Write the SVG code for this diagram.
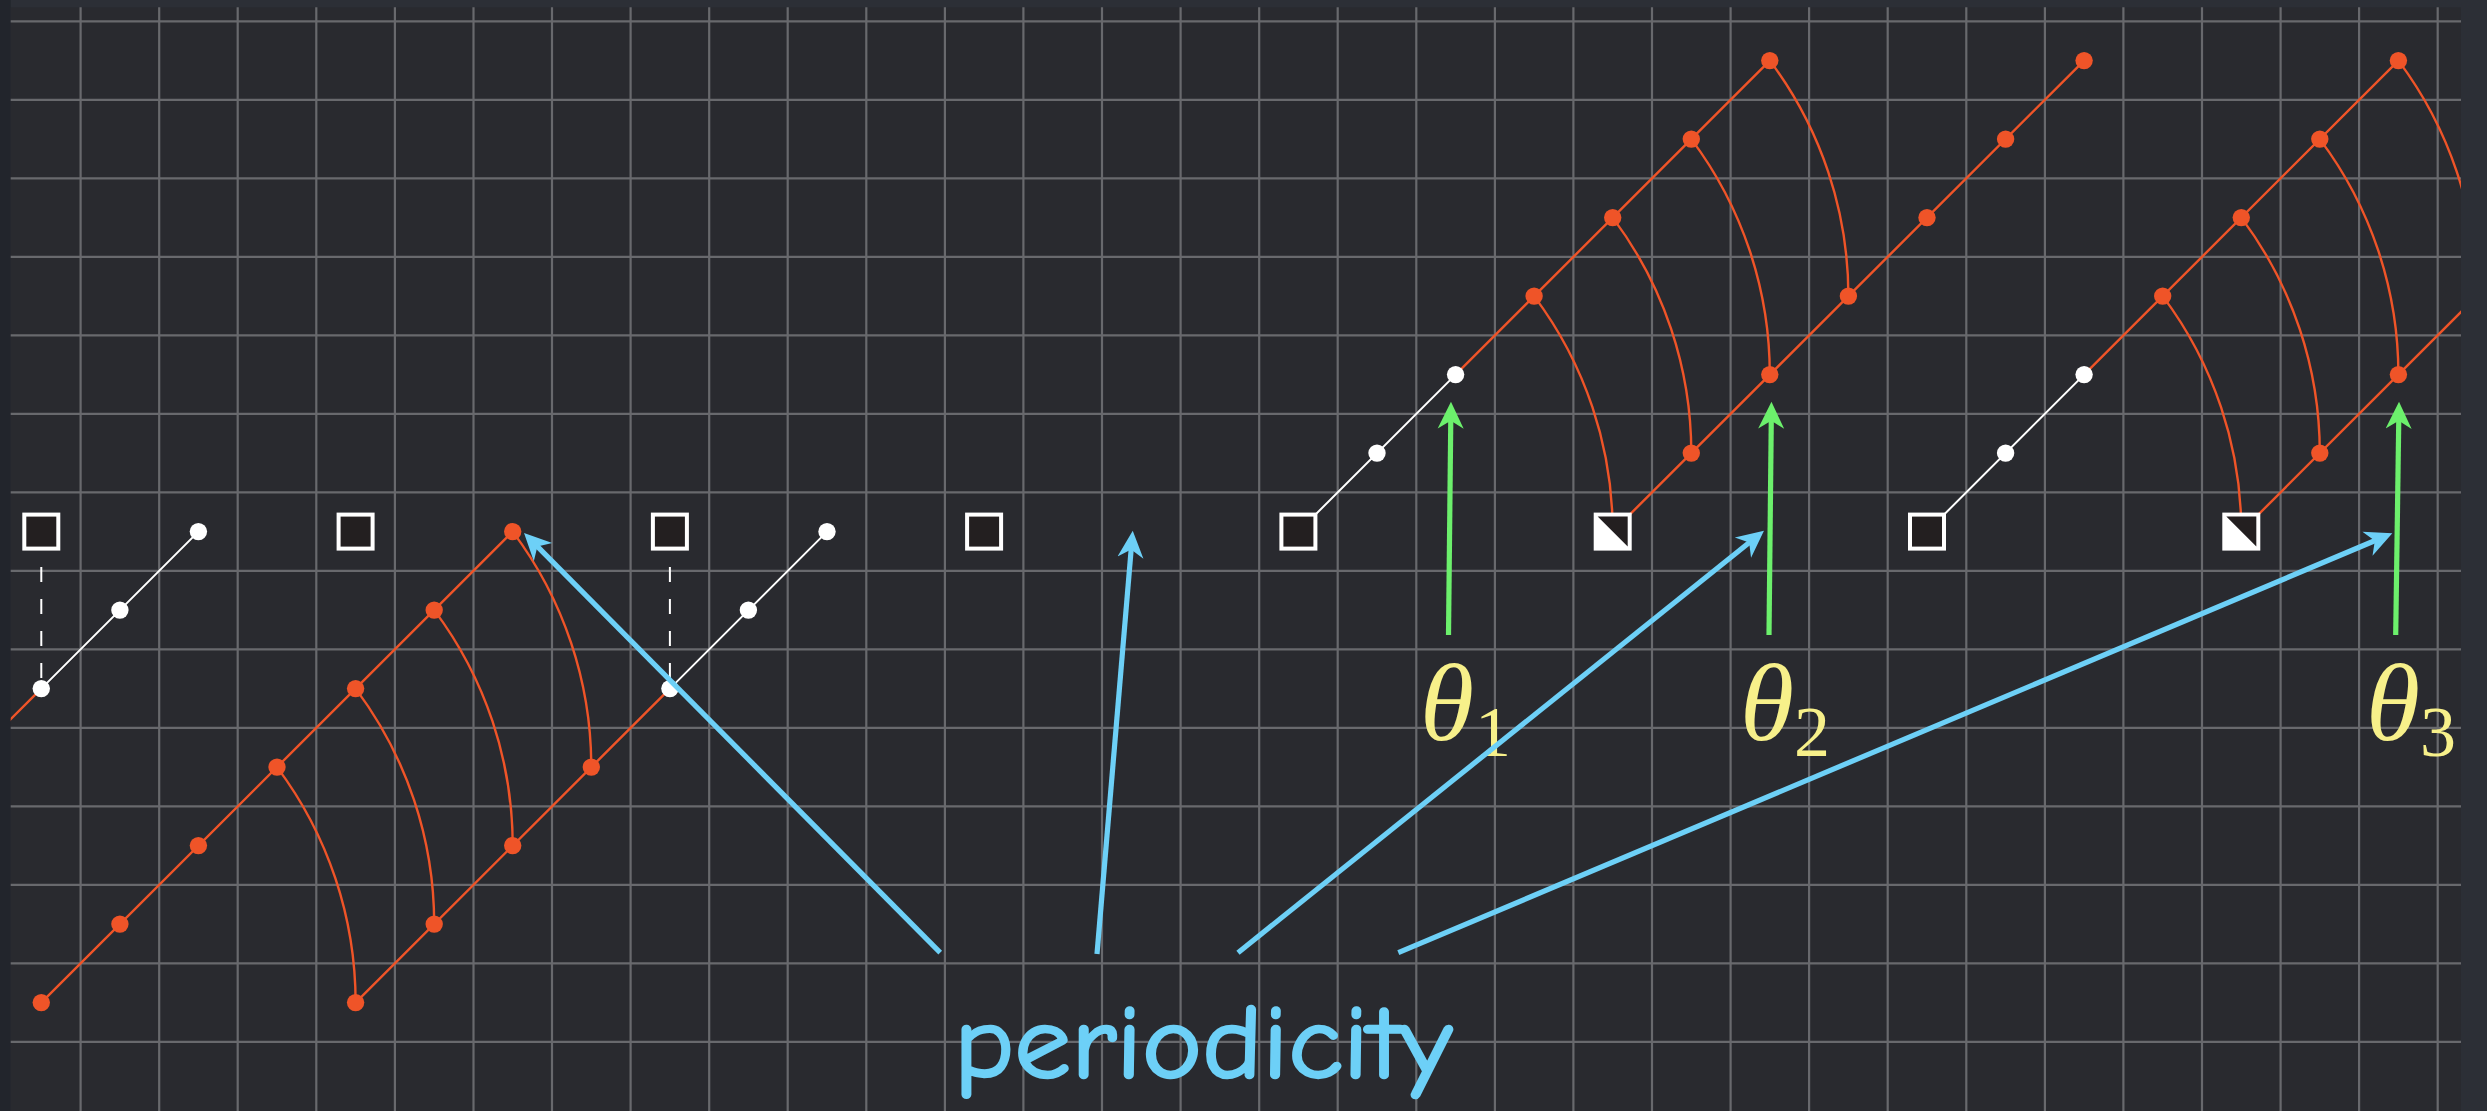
<svg xmlns="http://www.w3.org/2000/svg" width="2487" height="1111" viewBox="0 0 2487 1111">
<style>
.grid{stroke:#68696d;stroke-width:2.2;fill:none}
.ow{stroke:#ef5428;stroke-width:2.4;fill:none}
.wl{stroke:#ffffff;stroke-width:2;fill:none}
.dash{stroke:#ffffff;stroke-width:2;stroke-dasharray:15 17;fill:none}
.od{fill:#ef5428}
.wd{fill:#ffffff}
.sq{fill:#231f20;stroke:#ffffff;stroke-width:4}
.hsq{fill:#ffffff;stroke:#ffffff;stroke-width:4}
.tri{fill:#231f20}
.blue{stroke:#6dd0f7;stroke-width:5.2;fill:none;marker-end:url(#hb)}
.green{stroke:#6cf06c;stroke-width:5.2;fill:none;marker-end:url(#hg)}
.theta{font-family:"Liberation Serif","DejaVu Serif",serif;font-style:italic;fill:#f7f08a;font-size:110px}
.sub{font-family:"Liberation Serif","DejaVu Serif",serif;fill:#f7f08a;font-size:72px}
.per{font-family:"Comic Sans MS","Comic Neue","DejaVu Sans",sans-serif;fill:#6dd0f7;stroke:#6dd0f7;stroke-width:2.5;stroke-linejoin:round;font-size:104px}
</style>
<defs>
<clipPath id="gc"><rect x="10.7" y="7.3" width="2450.3" height="1103.7"/></clipPath>
<marker id="hb" markerUnits="userSpaceOnUse" viewBox="-27 -14 28 28" refX="-16" refY="0" markerWidth="28" markerHeight="28" orient="auto"><path d="M0 0L-27 -13L-19 0L-27 13Z" fill="#6dd0f7"/></marker>
<marker id="hg" markerUnits="userSpaceOnUse" viewBox="-27 -14 28 28" refX="-16" refY="0" markerWidth="28" markerHeight="28" orient="auto"><path d="M0 0L-27 -13L-19 0L-27 13Z" fill="#6cf06c"/></marker>
</defs>
<rect x="0" y="0" width="2487" height="1111" fill="#2c2f36"/>
<rect x="0" y="0" width="10.7" height="1111" fill="#22252c"/>
<rect x="10.7" y="7.3" width="2450.3" height="1103.7" fill="#292a2f"/>
<g id="grid">
<path class="grid" d="M80.6 7.3V1111M159.2 7.3V1111M237.7 7.3V1111M316.3 7.3V1111M394.9 7.3V1111M473.5 7.3V1111M552 7.3V1111M630.6 7.3V1111M709.2 7.3V1111M787.7 7.3V1111M866.3 7.3V1111M944.9 7.3V1111M1023.4 7.3V1111M1102 7.3V1111M1180.6 7.3V1111M1259.2 7.3V1111M1337.7 7.3V1111M1416.3 7.3V1111M1494.9 7.3V1111M1573.4 7.3V1111M1652 7.3V1111M1730.6 7.3V1111M1809.1 7.3V1111M1887.7 7.3V1111M1966.3 7.3V1111M2044.9 7.3V1111M2123.4 7.3V1111M2202 7.3V1111M2280.6 7.3V1111M2359.1 7.3V1111M2437.7 7.3V1111"/>
<path class="grid" d="M10.7 21.3H2461M10.7 99.8H2461M10.7 178.3H2461M10.7 256.8H2461M10.7 335.3H2461M10.7 413.8H2461M10.7 492.3H2461M10.7 570.8H2461M10.7 649.3H2461M10.7 727.8H2461M10.7 806.3H2461M10.7 884.8H2461M10.7 963.3H2461M10.7 1041.8H2461"/>
</g>
<g id="connectors" clip-path="url(#gc)">
<path class="dash" d="M41.3 567V681M669.9 567V681"/>
<path class="wl" d="M41.3 688.6L198.4 531.6M669.9 688.6L827 531.6M1298.4 531.6L1455.6 374.6M1927 531.6L2084.1 374.6"/>
<path class="ow" d="M41.3 688.6L-37.3 767.1M41.3 1002.6L512.7 531.6M355.6 1002.6L669.9 688.6M1455.6 374.6L1769.8 60.6M1612.7 531.6L2084.1 60.6M2084.1 374.6L2398.4 60.6M2241.3 531.6L2555.5 217.6"/>
<path class="ow" d="M277 767.1A392.5 392.5 0 0 1 355.6 1002.6M355.6 688.6A392.5 392.5 0 0 1 434.2 924.1M434.2 610.1A392.5 392.5 0 0 1 512.7 845.6M512.7 531.6A392.5 392.5 0 0 1 591.3 767.1"/>
<path class="ow" d="M1534.1 296.1A392.5 392.5 0 0 1 1612.7 531.6M1612.7 217.6A392.5 392.5 0 0 1 1691.3 453.1M1691.3 139.1A392.5 392.5 0 0 1 1769.8 374.6M1769.8 60.6A392.5 392.5 0 0 1 1848.4 296.1"/>
<path class="ow" d="M2162.7 296.1A392.5 392.5 0 0 1 2241.3 531.6M2241.3 217.6A392.5 392.5 0 0 1 2319.8 453.1M2319.8 139.1A392.5 392.5 0 0 1 2398.4 374.6M2398.4 60.6A392.5 392.5 0 0 1 2477 296.1"/>
</g>
<g id="squares">
<rect id="sq0" class="sq" x="24.3" y="514.6" width="34" height="34"/>
<rect id="sq4" class="sq" x="338.6" y="514.6" width="34" height="34"/>
<rect id="sq8" class="sq" x="652.9" y="514.6" width="34" height="34"/>
<rect id="sq12" class="sq" x="967.1" y="514.6" width="34" height="34"/>
<rect id="sq16" class="sq" x="1281.4" y="514.6" width="34" height="34"/>
<g id="sq20"><rect class="hsq" x="1595.7" y="514.6" width="34" height="34"/><polygon class="tri" points="1597.7,516.6 1627.7,516.6 1627.7,546.6"/></g>
<rect id="sq24" class="sq" x="1910" y="514.6" width="34" height="34"/>
<g id="sq28"><rect class="hsq" x="2224.3" y="514.6" width="34" height="34"/><polygon class="tri" points="2226.3,516.6 2256.3,516.6 2256.3,546.6"/></g>
</g>
<g id="white-dots" class="wd">
<circle id="w0_8" cx="41.3" cy="688.6" r="8.7"/>
<circle id="w1_7" cx="119.9" cy="610.1" r="8.7"/>
<circle id="w2_6" cx="198.4" cy="531.6" r="8.7"/>
<circle id="w8_8" cx="669.9" cy="688.6" r="8.7"/>
<circle id="w9_7" cx="748.4" cy="610.1" r="8.7"/>
<circle id="w10_6" cx="827" cy="531.6" r="8.7"/>
<circle id="w17_5" cx="1377" cy="453.1" r="8.7"/>
<circle id="w18_4" cx="1455.6" cy="374.6" r="8.7"/>
<circle id="w25_5" cx="2005.6" cy="453.1" r="8.7"/>
<circle id="w26_4" cx="2084.1" cy="374.6" r="8.7"/>
</g>
<g id="orange-dots" class="od">
<circle id="o0_12" cx="41.3" cy="1002.6" r="8.7"/>
<circle id="o1_11" cx="119.9" cy="924.1" r="8.7"/>
<circle id="o2_10" cx="198.4" cy="845.6" r="8.7"/>
<circle id="o3_9" cx="277" cy="767.1" r="8.7"/>
<circle id="o4_8" cx="355.6" cy="688.6" r="8.7"/>
<circle id="o5_7" cx="434.2" cy="610.1" r="8.7"/>
<circle id="o6_6" cx="512.7" cy="531.6" r="8.7"/>
<circle id="o4_12" cx="355.6" cy="1002.6" r="8.7"/>
<circle id="o5_11" cx="434.2" cy="924.1" r="8.7"/>
<circle id="o6_10" cx="512.7" cy="845.6" r="8.7"/>
<circle id="o7_9" cx="591.3" cy="767.1" r="8.7"/>
<circle id="o19_3" cx="1534.1" cy="296.1" r="8.7"/>
<circle id="o20_2" cx="1612.7" cy="217.6" r="8.7"/>
<circle id="o21_1" cx="1691.3" cy="139.1" r="8.7"/>
<circle id="o22_0" cx="1769.8" cy="60.6" r="8.7"/>
<circle id="o21_5" cx="1691.3" cy="453.1" r="8.7"/>
<circle id="o22_4" cx="1769.8" cy="374.6" r="8.7"/>
<circle id="o23_3" cx="1848.4" cy="296.1" r="8.7"/>
<circle id="o24_2" cx="1927" cy="217.6" r="8.7"/>
<circle id="o25_1" cx="2005.6" cy="139.1" r="8.7"/>
<circle id="o26_0" cx="2084.1" cy="60.6" r="8.7"/>
<circle id="o27_3" cx="2162.7" cy="296.1" r="8.7"/>
<circle id="o28_2" cx="2241.3" cy="217.6" r="8.7"/>
<circle id="o29_1" cx="2319.8" cy="139.1" r="8.7"/>
<circle id="o30_0" cx="2398.4" cy="60.6" r="8.7"/>
<circle id="o29_5" cx="2319.8" cy="453.1" r="8.7"/>
<circle id="o30_4" cx="2398.4" cy="374.6" r="8.7"/>
</g>
<g id="labels">
<g id="theta1"><text class="theta" x="1420" y="740">θ</text><text class="sub" x="1475" y="756">1</text></g>
<g id="theta2"><text class="theta" x="1740" y="740">θ</text><text class="sub" x="1794" y="756">2</text></g>
<g id="theta3"><text class="theta" x="2366" y="740">θ</text><text class="sub" x="2420" y="756">3</text></g>
<text id="periodicity" class="per" x="954" y="1077" textLength="498" lengthAdjust="spacingAndGlyphs">periodicity</text>
</g>
<g id="arrows">
<line class="green" x1="1448.5" y1="635" x2="1450.8" y2="417.7"/>
<line class="green" x1="1769" y1="635" x2="1771.3" y2="417.7"/>
<line class="green" x1="2395.7" y1="635" x2="2398.8" y2="417.7"/>
<line class="blue" x1="940.2" y1="952.7" x2="535.3" y2="544.3"/>
<line class="blue" x1="1097" y1="954" x2="1131.4" y2="546.6"/>
<line class="blue" x1="1238" y1="952.7" x2="1751.5" y2="540.7"/>
<line class="blue" x1="1398.3" y1="952.7" x2="2377.6" y2="539.5"/>
</g>
</svg>
